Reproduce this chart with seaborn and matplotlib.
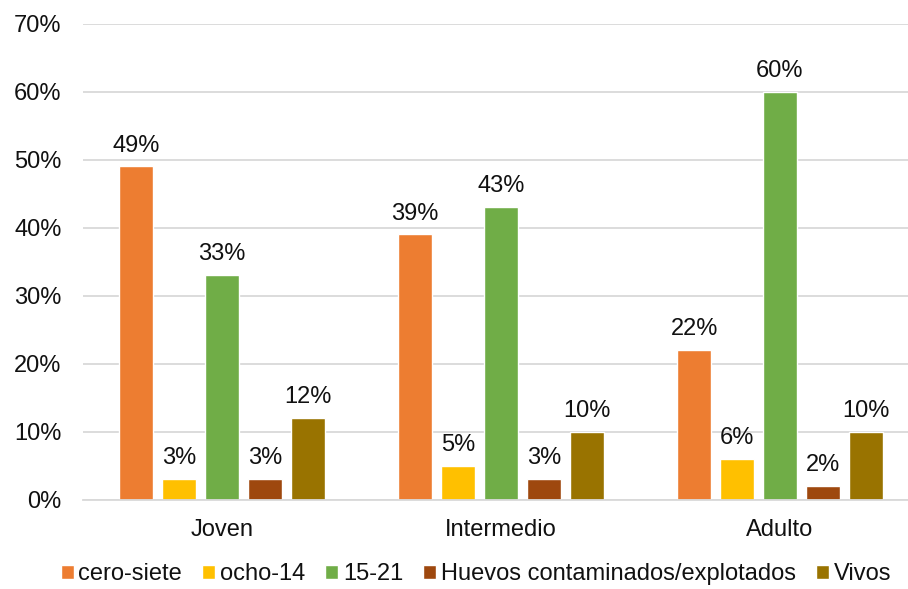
import pandas as pd
import matplotlib.pyplot as plt
import seaborn as sns
from matplotlib.ticker import PercentFormatter

grupos = ["Joven", "Intermedio", "Adulto"]
series = ["cero-siete", "ocho-14", "15-21", "Huevos contaminados/explotados", "Vivos"]
cero_siete = [49, 39, 22]
ocho_14 = [3, 5, 6]
quince_21 = [33, 43, 60]
huevos = [3, 3, 2]
vivos = [12, 10, 10]
colores = ["#ED7D31", "#FFC000", "#70AD47", "#9E480E", "#997300"]

valores = [cero_siete, ocho_14, quince_21, huevos, vivos]
rows = []
for s, vals in zip(series, valores):
    for g, v in zip(grupos, vals):
        rows.append({"grupo": g, "serie": s, "valor": v})
df = pd.DataFrame(rows)

sns.set_style("white")
plt.rcParams["font.family"] = ["Liberation Sans", "DejaVu Sans"]

fig = plt.figure(figsize=(9.08, 5.89), dpi=100)
ax = fig.add_axes([82.5 / 908, 1 - 499.5 / 589, 837 / 908, 476 / 589])

sns.barplot(data=df, x="grupo", y="valor", hue="serie", hue_order=series,
            palette=colores, saturation=1, width=0.77, gap=0.21, ax=ax, legend=True)

# etiquetas de porcentaje sobre cada barra
for cont in ax.containers:
    ax.bar_label(cont, fmt="%g%%", padding=7, fontsize=17, color="#111111")

ax.set_ylim(0, 70)
ax.set_yticks(range(0, 71, 10))
ax.yaxis.set_major_formatter(PercentFormatter(decimals=0))
ax.grid(axis="y", color="#d9d9d9", linewidth=1.3)
ax.set_axisbelow(True)
for sp in ["top", "right", "left"]:
    ax.spines[sp].set_visible(False)
ax.spines["bottom"].set_color("#d9d9d9")
ax.spines["bottom"].set_linewidth(1.3)
ax.tick_params(axis="both", length=0, labelsize=17, labelcolor="#111111")
ax.tick_params(axis="x", pad=14)
ax.tick_params(axis="y", pad=15)
ax.set_xlabel("")
ax.set_ylabel("")

handles, labels = ax.get_legend_handles_labels()
ax.get_legend().remove()
fig.legend(handles, labels, loc="center", bbox_to_anchor=(476 / 908, 1 - 574 / 589),
           ncol=5, frameon=False, fontsize=17, handlelength=0.55, handleheight=0.55,
           handletextpad=0.2, columnspacing=0.85, borderaxespad=0, labelcolor="#111111")

fig.savefig("out.png", dpi=100)
